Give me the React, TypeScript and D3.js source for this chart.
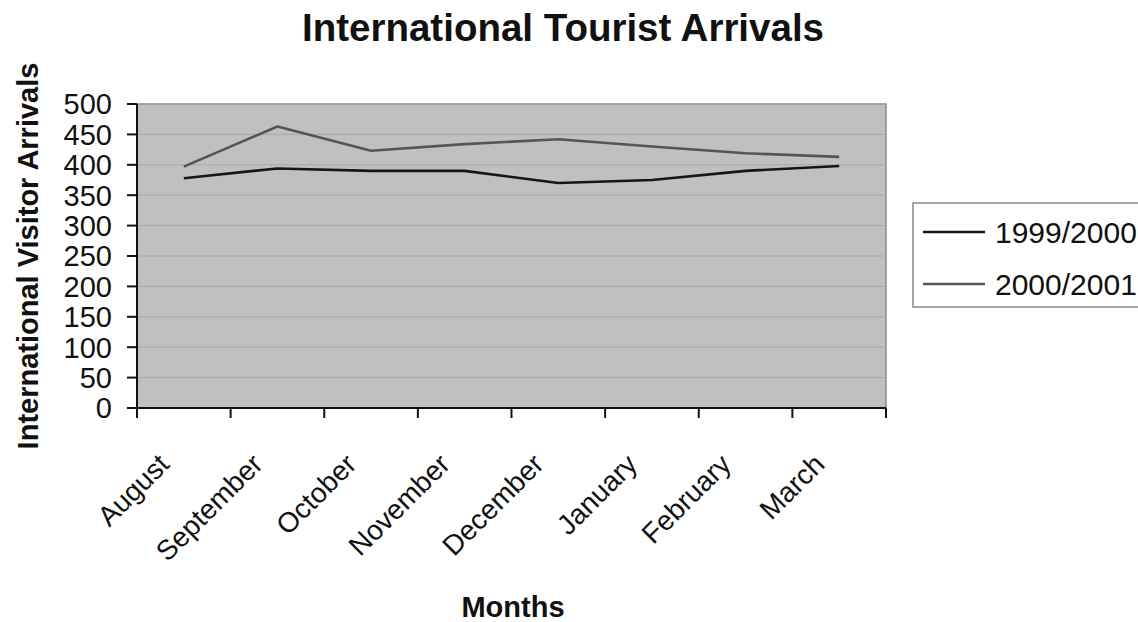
import React from "react";
import * as d3 from "d3";

const months = ["August", "September", "October", "November", "December", "January", "February", "March"];
const series1999 = [378, 394, 390, 390, 370, 375, 390, 398];
const series2000 = [397, 463, 423, 434, 442, 430, 419, 413];
const yTicks = [0, 50, 100, 150, 200, 250, 300, 350, 400, 450, 500];
const seriesNames = ["1999/2000", "2000/2001"];

const W = 1138;
const H = 622;
const left = 137;
const right = 886;
const top = 104;
const bottom = 408;
const FONT = "'Liberation Sans', Arial, sans-serif";

export default function App() {
  const x = d3.scaleBand<string>().domain(months).range([left, right]).padding(0);
  const y = d3.scaleLinear().domain([0, 500]).range([bottom, top]);
  const cx = (m: string) => (x(m) as number) + x.bandwidth() / 2;
  const line = d3
    .line<number>()
    .x((_, i) => cx(months[i]))
    .y((d) => y(d));
  const xTickPos = months.map((m) => x(m) as number).concat([right]);

  const series = [
    { name: seriesNames[0], values: series1999, color: "#161616" },
    { name: seriesNames[1], values: series2000, color: "#555555" },
  ];

  return (
    <svg width={W} height={H} style={{ position: "absolute", left: 0, top: 0, background: "#fff" }} fontFamily={FONT}>
      <rect x={0} y={0} width={W} height={H} fill="#fff" />
      <text x={563} y={41} textAnchor="middle" fontSize={38.5} fontWeight="bold" fill="#111">
        International Tourist Arrivals
      </text>
      {/* plot area */}
      <rect x={left} y={top} width={right - left} height={bottom - top} fill="#c0c0c0" stroke="#8a8a8a" strokeWidth={1.5} />
      {yTicks.slice(1).map((t) => (
        <line key={t} x1={left} x2={right} y1={y(t)} y2={y(t)} stroke="#a8a8a8" strokeWidth={1} />
      ))}
      {/* axes */}
      <line x1={left} x2={left} y1={top} y2={bottom} stroke="#111" strokeWidth={2} />
      <line x1={left} x2={right} y1={bottom} y2={bottom} stroke="#111" strokeWidth={2} />
      {yTicks.map((t) => (
        <g key={t}>
          <line x1={left - 10} x2={left} y1={y(t)} y2={y(t)} stroke="#111" strokeWidth={2} />
          <text x={112} y={y(t)} dy="0.36em" textAnchor="end" fontSize={29} fill="#111">
            {t}
          </text>
        </g>
      ))}
      {xTickPos.map((p, i) => (
        <line key={i} x1={p} x2={p} y1={bottom} y2={bottom + 10} stroke="#111" strokeWidth={2} />
      ))}
      {months.map((m) => (
        <text
          key={m}
          transform={`translate(${cx(m) - 13},${466}) rotate(-45)`}
          textAnchor="end"
          fontSize={28}
          fill="#111"
        >
          {m}
        </text>
      ))}
      {/* lines */}
      {series.map((s) => (
        <path key={s.name} d={line(s.values) || ""} fill="none" stroke={s.color} strokeWidth={2.6} strokeLinejoin="round" />
      ))}
      {/* axis titles */}
      <text transform={`translate(38,256) rotate(-90)`} textAnchor="middle" fontSize={29} fontWeight="bold" fill="#111">
        International Visitor Arrivals
      </text>
      <text x={513} y={617} textAnchor="middle" fontSize={29} fontWeight="bold" fill="#111">
        Months
      </text>
      {/* legend */}
      <rect x={913} y={203} width={240} height={104} fill="#fff" stroke="#888" strokeWidth={1.5} />
      {series.map((s, i) => (
        <g key={s.name}>
          <line x1={923} x2={985} y1={232 + i * 52} y2={232 + i * 52} stroke={s.color} strokeWidth={2.6} />
          <text x={995} y={232 + i * 52} dy="0.36em" fontSize={30} fill="#111">
            {s.name}
          </text>
        </g>
      ))}
    </svg>
  );
}
